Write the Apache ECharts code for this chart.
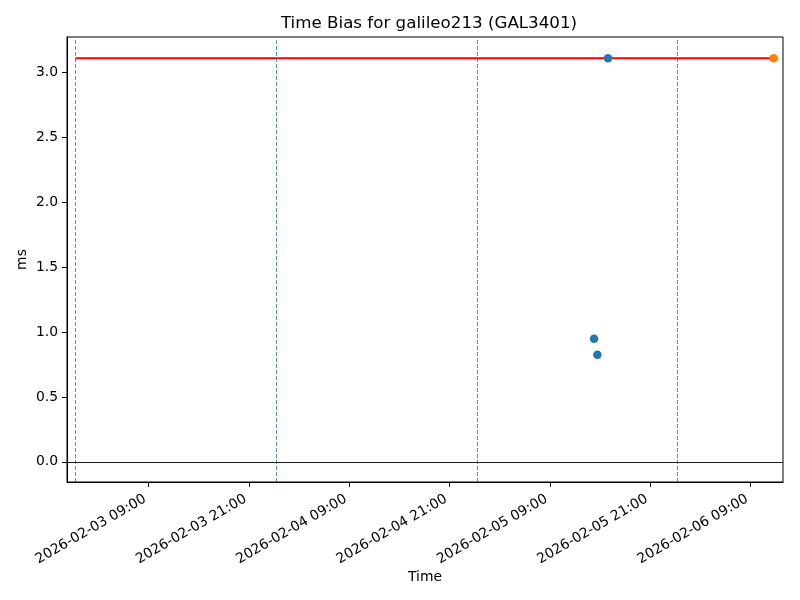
<!DOCTYPE html>
<html>
<head>
<meta charset="utf-8">
<script src="https://cdn.jsdelivr.net/npm/echarts@6/dist/echarts.min.js"></script>
</head>
<body style="margin:0;background:#fff;">
<div id="chart" style="width:800px;height:600px;"></div>
<script>
// measurements
const blueTimes = ['2026-02-05 14:16', '2026-02-05 14:40', '2026-02-05 15:56'];
const blueValues = [0.948, 0.825, 3.11];
const orangeTimes = ['2026-02-06 11:45'];
const orangeValues = [3.11];
// reference level
const refTimes = ['2026-02-03 00:15', '2026-02-06 11:45'];
const refValues = [3.11, 3.11];
// day boundaries (dashed)
const dayLines = ['2026-02-03 00:15', '2026-02-04 00:15', '2026-02-05 00:15', '2026-02-06 00:15'];
// axes
const xTicks = ['2026-02-03 09:00', '2026-02-03 21:00', '2026-02-04 09:00', '2026-02-04 21:00',
  '2026-02-05 09:00', '2026-02-05 21:00', '2026-02-06 09:00'];
const xRange = ['2026-02-02 23:14', '2026-02-06 12:52'];
const yTicks = [0, 0.5, 1.0, 1.5, 2.0, 2.5, 3.0];
const yRange = [-0.156, 3.274];

function toMs(s) {
  const [d, t] = s.split(' ');
  const [Y, M, D] = d.split('-').map(Number);
  const [h, m] = t.split(':').map(Number);
  return Date.UTC(Y, M - 1, D, h, m);
}
function pad(n) { return String(n).padStart(2, '0'); }
function fmt(v) {
  const d = new Date(v);
  return d.getUTCFullYear() + '-' + pad(d.getUTCMonth() + 1) + '-' + pad(d.getUTCDate()) +
    ' ' + pad(d.getUTCHours()) + ':' + pad(d.getUTCMinutes());
}
function pairs(ts, vs) { return ts.map((t, i) => [toMs(t), vs[i]]); }

const font = 'DejaVu Sans';
const xTickMs = xTicks.map(toMs);

const option = {
  animation: false,
  backgroundColor: '#fff',
  textStyle: { fontFamily: font },
  title: {
    text: 'Time Bias for galileo213 (GAL3401)',
    left: 424,
    textAlign: 'center',
    top: 10,
    textStyle: { fontFamily: font, fontSize: 16.7, fontWeight: 'normal', color: '#000' }
  },
  grid: {
    left: 67, right: 17, top: 37, bottom: 118,
    show: true, borderColor: '#000', borderWidth: 1, backgroundColor: 'transparent'
  },
  xAxis: {
    type: 'value',
    min: toMs(xRange[0]),
    max: toMs(xRange[1]),
    name: 'Time',
    nameLocation: 'middle',
    nameGap: 88,
    nameMoveOverlap: false,
    nameTextStyle: { fontFamily: font, fontSize: 13.9, color: '#000' },
    axisLine: { show: true, onZero: false, lineStyle: { color: '#000', width: 1 } },
    axisTick: { show: true, length: 5, customValues: xTickMs, lineStyle: { color: '#000' } },
    axisLabel: {
      customValues: xTickMs,
      rotate: 30,
      margin: 14,
      padding: [0, 4, 0, 0],
      fontFamily: font, fontSize: 13.9, color: '#000',
      formatter: v => fmt(v)
    },
    splitLine: { show: false }
  },
  yAxis: {
    type: 'value',
    min: yRange[0],
    max: yRange[1],
    name: 'ms',
    nameLocation: 'middle',
    nameGap: 38,
    nameMoveOverlap: false,
    nameTextStyle: { fontFamily: font, fontSize: 13.9, color: '#000' },
    axisLine: { show: true, onZero: false, lineStyle: { color: '#000', width: 1 } },
    axisTick: { show: true, length: 5, customValues: yTicks, lineStyle: { color: '#000' } },
    axisLabel: {
      customValues: yTicks,
      margin: 9,
      fontFamily: font, fontSize: 13.9, color: '#000',
      formatter: v => v.toFixed(1)
    },
    splitLine: { show: false }
  },
  series: [
    {
      type: 'line',
      data: [],
      silent: true,
      markLine: {
        silent: true,
        symbol: 'none',
        label: { show: false },
        lineStyle: { color: '#1f77b4', opacity: 0.8, width: 1, type: [4, 2] },
        data: dayLines.map(t => ({ xAxis: toMs(t) }))
      }
    },
    {
      type: 'line',
      data: [],
      silent: true,
      markLine: {
        silent: true,
        symbol: 'none',
        label: { show: false },
        lineStyle: { color: '#000', width: 0.9, type: 'solid' },
        data: [{ yAxis: 0 }]
      }
    },
    {
      type: 'line',
      data: pairs(refTimes, refValues),
      showSymbol: false,
      lineStyle: { color: '#ff0000', width: 2 },
      z: 3
    },
    {
      type: 'scatter',
      data: pairs(blueTimes, blueValues),
      symbolSize: 8.5,
      itemStyle: { color: '#1f77b4', opacity: 1 },
      z: 4
    },
    {
      type: 'scatter',
      data: pairs(orangeTimes, orangeValues),
      symbolSize: 8.5,
      itemStyle: { color: '#ff7f0e', opacity: 1 },
      z: 4
    }
  ]
};

const myChart = echarts.init(document.getElementById('chart'));
myChart.setOption(option);
</script>
</body>
</html>
